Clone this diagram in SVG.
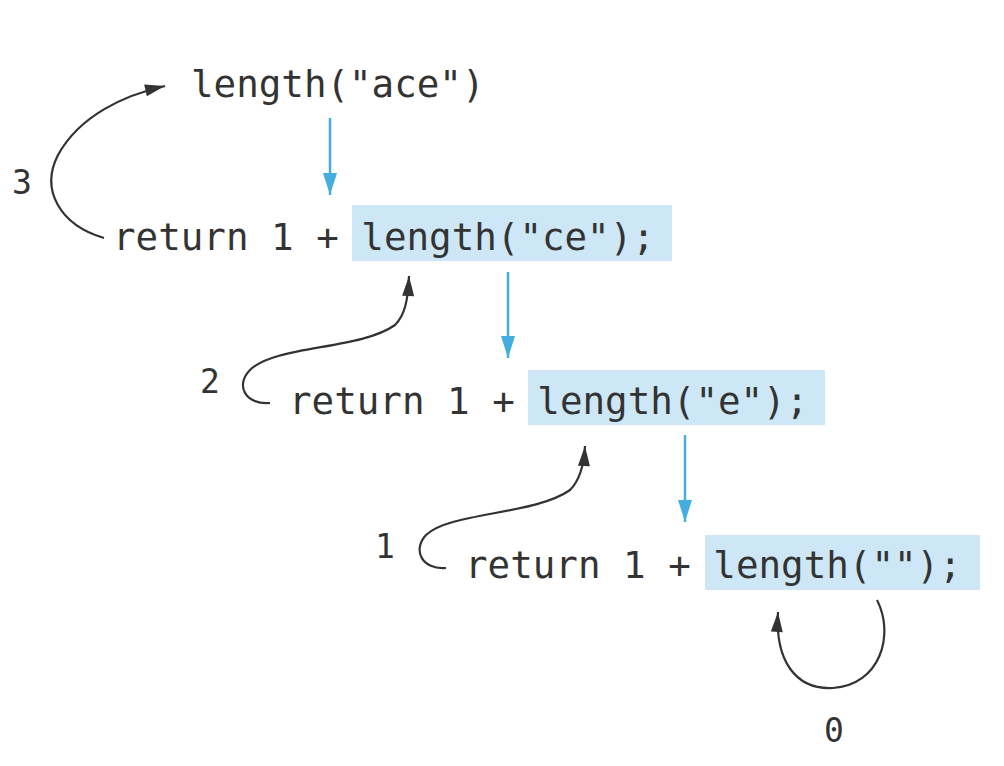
<svg xmlns="http://www.w3.org/2000/svg" width="1004" height="766" viewBox="0 0 1004 766">
<defs>
<style>
.t{font-family:"DejaVu Sans Mono","Liberation Mono",monospace;font-size:37.5px;fill:#333}
.n{font-family:"DejaVu Sans Mono","Liberation Mono",monospace;font-size:33px;fill:#333}
.hl{fill:#cde7f6}
.blue{stroke:#45aee0;stroke-width:2.5;fill:none}
.blk{stroke:#333;stroke-width:2.2;fill:none}
</style>
<marker id="ab" viewBox="0 0 22 14" markerWidth="22" markerHeight="14" refX="22" refY="7" orient="auto" markerUnits="userSpaceOnUse">
<path d="M0,0 L22,7 L0,14 Z" fill="#45aee0"/>
</marker>
<marker id="ak" viewBox="0 0 20 12" markerWidth="22" markerHeight="12" refX="20" refY="6" orient="auto" markerUnits="userSpaceOnUse">
<path d="M0,0 L20,6 L0,12 Z" fill="#333"/>
</marker>
</defs>
<rect width="1004" height="766" fill="#fff"/>
<g id="node-ace"><text class="t" x="191" y="97">length("ace")</text></g>
<g id="node-ce">
<rect class="hl" x="352" y="205" width="320" height="56"/>
<text class="t" x="113" y="250">return 1 + length("ce");</text>
</g>
<g id="node-e">
<rect class="hl" x="528" y="370" width="297" height="55"/>
<text class="t" x="289" y="414">return 1 + length("e");</text>
</g>
<g id="node-empty">
<rect class="hl" x="705" y="535" width="275" height="55"/>
<text class="t" x="465" y="578">return 1 + length("");</text>
</g>
<g id="labels">
<text class="n" x="12" y="194">3</text>
<text class="n" x="200" y="393">2</text>
<text class="n" x="375" y="558">1</text>
<text class="n" x="824" y="742">0</text>
</g>
<g id="connectors">
<path class="blue" d="M330,118 V195" marker-end="url(#ab)"/>
<path class="blue" d="M508,272 V358" marker-end="url(#ab)"/>
<path class="blue" d="M685,435 V522" marker-end="url(#ab)"/>
<path class="blk" d="M104,238 C60,225 40,190 58,155 C80,115 125,95 165,86" marker-end="url(#ak)"/>
<path class="blk" d="M270,403 C245,405 235,385 250,370 C275,345 360,350 395,325 C405,315 408,300 409,276" marker-end="url(#ak)"/>
<path class="blk" d="M446,568 C422,570 412,550 426,535 C450,512 535,515 570,490 C580,480 584,465 585,446" marker-end="url(#ak)"/>
<path class="blk" d="M877,600 C895,635 880,685 833,688 C795,690 775,660 778,612" marker-end="url(#ak)"/>
</g>
</svg>
